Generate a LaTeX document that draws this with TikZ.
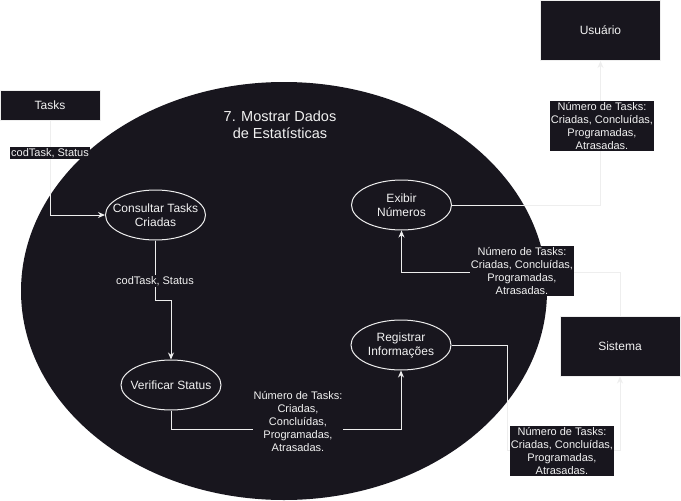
\documentclass[tikz,border=0pt]{standalone}
\usepackage{fontspec}
\setmainfont{Liberation Sans}
\usepackage{xcolor}
\usepackage{tikz}
\usetikzlibrary{positioning, arrows.meta, shapes.geometric}
\definecolor{dfdark}{HTML}{18161E}
\definecolor{dfline}{HTML}{EEEEEE}
\definecolor{dftext}{HTML}{F2F2F2}

\begin{document}
\begin{tikzpicture}[x=1pt, y=-1pt, line width=1pt,
        proc/.style={ellipse, draw=dfline, fill=dfdark, text=dftext, minimum width=100, minimum height=50, inner xsep=-20pt, inner ysep=0pt, align=center, font=\fontsize{12}{14}\selectfont},
        ent/.style={rectangle, draw=dfline, fill=dfdark, text=dftext, minimum width=120, minimum height=60, font=\fontsize{12}{14}\selectfont},
        lbl/.style={fill=dfdark, text=dftext, align=center, inner sep=1pt, font=\fontsize{11}{13}\selectfont},
        flow/.style={draw=dfline, -{Stealth[length=7pt, width=6pt]}}]
        \useasboundingbox[fill=white] (0,0) rectangle (681,501);
        \fill[dfdark] (284,291) ellipse [x radius=263, y radius=209];
        \node[text=dftext, align=center, font=\fontsize{14.5}{17}\selectfont] (title) at (280,125) {7. Mostrar Dados\\de Estatísticas};
        \node[ent, minimum width=100, minimum height=30] (tasks) at (50,105) {Tasks};
        \node[ent] (usuario) at (600.5,30.5) {Usuário};
        \node[ent] (sistema) at (620,346) {Sistema};
        \node[proc] (consulta) at (155.5,215) {Consultar Tasks\\Criadas};
        \node[proc] (verifica) at (171,385) {Verificar Status};
        \node[proc] (registra) at (401,345) {Registrar\\Informações};
        \node[proc] (exibe) at (401.5,205) {Exibir\\Números};
        \draw[flow] (tasks.south) |- (consulta.west);
        \draw[flow] (consulta.south) -- ++(0,60) -| (verifica.north);
        \draw[flow] (verifica.south) -- ++(0,19) -| (registra.south);
        \draw[flow] (registra.east) -- ++(56,0) -- ++(0,105) -| (sistema.south);
        \draw[flow] (sistema.north) -- ++(0,-43) -| (exibe.south);
        \draw[flow] (exibe.east) -| (usuario.south);
        \node[lbl] (lbltasks) at (50,153) {codTask, Status};
        \node[lbl] (lblconsulta) at (155,281) {codTask, Status};
        \node[lbl] (lblverifica) at (298,421) {Número de Tasks:\\Criadas,\\Concluídas,\\Programadas,\\Atrasadas.};
        \node[lbl] (lblregistra) at (562,451) {Número de Tasks:\\Criadas, Concluídas,\\Programadas,\\Atrasadas.};
        \node[lbl] (lblsistema) at (522,271) {Número de Tasks:\\Criadas, Concluídas,\\Programadas,\\Atrasadas.};
        \node[lbl] (lblexibe) at (602,126) {Número de Tasks:\\Criadas, Concluídas,\\Programadas,\\Atrasadas.};
      \end{tikzpicture}
\end{document}
